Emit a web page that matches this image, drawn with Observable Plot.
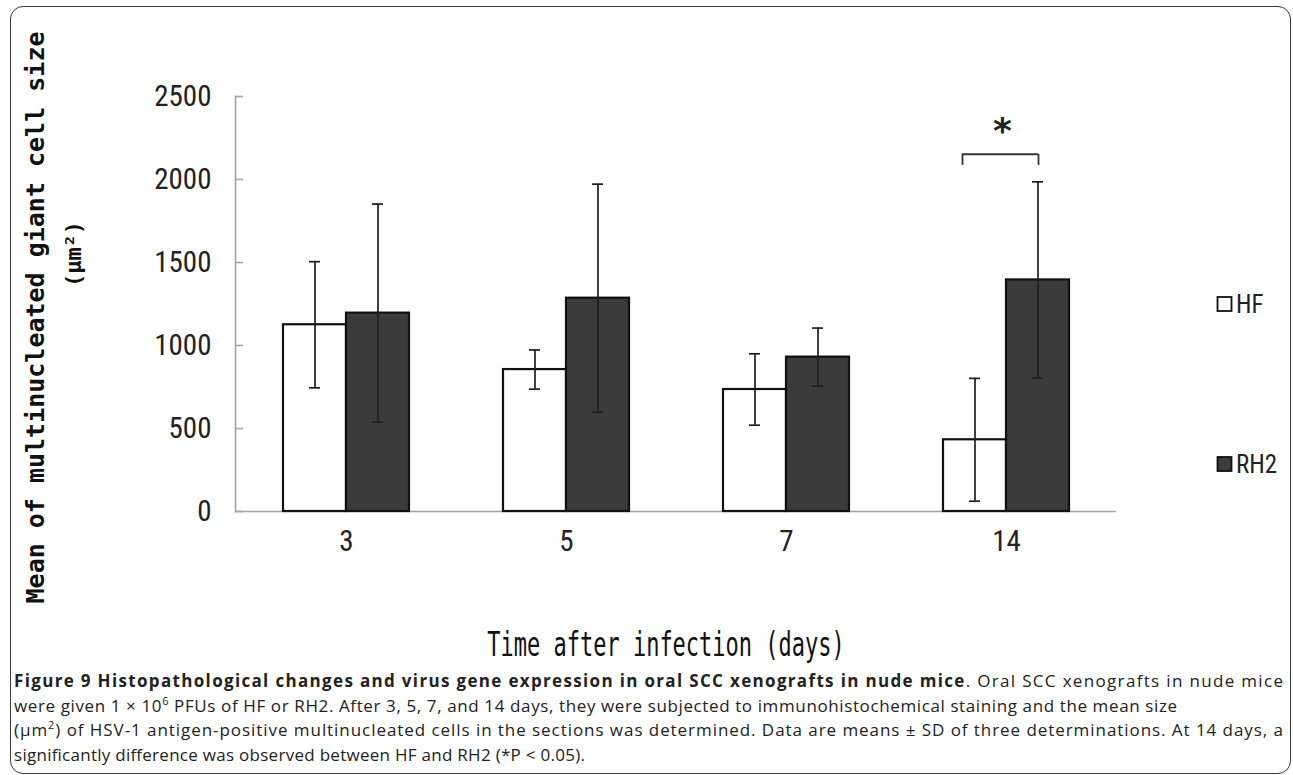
<!DOCTYPE html>
<html>
<head>
<meta charset="utf-8">
<script src="https://cdn.jsdelivr.net/npm/d3@7"></script>
<script src="https://cdn.jsdelivr.net/npm/@observablehq/plot@0.6"></script>
<style>
  body { margin: 0; background: #fff; }
  #wrap { position: relative; width: 1293px; height: 775px; overflow: hidden; background: #fff; }
  #frame { position: absolute; left: 10px; top: 6px; width: 1281px; height: 768px; border: 1.5px solid #3a3a3a; border-radius: 13px; box-sizing: border-box; }
  #chart { position: absolute; left: 0; top: 0; }
  #overlay { position: absolute; left: 0; top: 0; pointer-events: none; }
</style>
</head>
<body>
<div id="wrap">
  <div id="frame"></div>
  <div id="chart"></div>
  <svg id="overlay" width="1293" height="775"></svg>
</div>
<script>
// ---- data ----
const days = ["3", "5", "7", "14"];
const seriesNames = ["HF", "RH2"];
const hfMean = [1125, 855, 735, 432];
const hfSD = [380, 118, 215, 370];
const rh2Mean = [1195, 1285, 930, 1395];
const rh2SD = [657, 687, 175, 591];
const yTicks = [0, 500, 1000, 1500, 2000, 2500];
const sigDay = "14";
const sigBracket = [2085, 2152];   // leg bottom, bracket level (µm²)
const sigStar = 2326;
const yLabel1 = "Mean of multinucleated giant cell size";
const yLabel2 = "(μm²)";
const xLabel = "Time after infection (days)";

// ---- tables ----
const hf = days.map((d, i) => ({day: d, mean: hfMean[i], sd: hfSD[i]}));
const rh2 = days.map((d, i) => ({day: d, mean: rh2Mean[i], sd: rh2SD[i]}));

const axisGrey = "#a3a3a3";
const ink = "#1e1e1e";
const darkFill = "#3b3b3b";
const narrow = "'Liberation Sans Narrow', 'Arial Narrow', 'Roboto Condensed', 'Liberation Sans', Arial, sans-serif";
const mono = "'DejaVu Sans Mono', 'Liberation Mono', monospace";

const W = 1293, H = 570, ML = 235, MR = 177, MT = 96, MB = 59;
const frameW = W - ML - MR;
const midY = (MT + H - MB) / 2;
const half = 63;

const chart = Plot.plot({
  width: W, height: H,
  marginLeft: ML, marginRight: MR, marginTop: MT, marginBottom: MB,
  style: {background: "transparent", overflow: "visible"},
  x: {type: "band", domain: days, paddingInner: 0.428, paddingOuter: 0.214, label: null, axis: null},
  y: {domain: [0, 2500], label: null, axis: null},
  marks: [
    Plot.ruleY([0], {stroke: axisGrey, strokeWidth: 1.6}),
    Plot.frame({anchor: "left", stroke: axisGrey, strokeWidth: 1.6}),
    Plot.tickY(yTicks, {y: d => d, insetRight: frameW - 8, stroke: axisGrey, strokeWidth: 1.6}),
    Plot.axisY({ticks: yTicks, tickFormat: d => String(d), tickSize: 0, tickPadding: 24, fontSize: 29, fontFamily: narrow, fill: "#222", label: null}),
    Plot.axisX({tickSize: 0, tickPadding: 19, fontSize: 29, fontFamily: narrow, fill: "#222", label: null}),
    Plot.barY(hf, {x: "day", y: "mean", insetRight: half, fill: "white", stroke: "#111", strokeWidth: 2.2}),
    Plot.barY(rh2, {x: "day", y: "mean", insetLeft: half, fill: darkFill, stroke: "#111", strokeWidth: 2.2}),
    Plot.ruleX(hf, {x: "day", y1: d => d.mean - d.sd, y2: d => d.mean + d.sd, dx: -31.5, stroke: ink, strokeWidth: 1.7}),
    Plot.ruleX(rh2, {x: "day", y1: d => d.mean - d.sd, y2: d => d.mean + d.sd, dx: 31.5, stroke: ink, strokeWidth: 1.7}),
    Plot.tickY(hf, {x: "day", y: d => d.mean + d.sd, insetLeft: 26, insetRight: 89, stroke: ink, strokeWidth: 1.7}),
    Plot.tickY(hf, {x: "day", y: d => d.mean - d.sd, insetLeft: 26, insetRight: 89, stroke: ink, strokeWidth: 1.7}),
    Plot.tickY(rh2, {x: "day", y: d => d.mean + d.sd, insetLeft: 89, insetRight: 26, stroke: ink, strokeWidth: 1.7}),
    Plot.tickY(rh2, {x: "day", y: d => d.mean - d.sd, insetLeft: 89, insetRight: 26, stroke: ink, strokeWidth: 1.7}),
    // significance bracket
    Plot.ruleX([sigDay], {x: d => d, y1: sigBracket[0], y2: sigBracket[1], dx: -44, stroke: "#333", strokeWidth: 1.8}),
    Plot.ruleX([sigDay], {x: d => d, y1: sigBracket[0], y2: sigBracket[1], dx: 32, stroke: "#333", strokeWidth: 1.8}),
    Plot.tickY([sigDay], {x: d => d, y: sigBracket[1], insetLeft: 19, insetRight: 31, stroke: "#333", strokeWidth: 1.8}),
    Plot.text([sigDay], {x: d => d, y: sigStar, text: () => "*", fontSize: 36, fontWeight: "bold", fontFamily: "'DejaVu Sans', sans-serif", fill: "#222", dx: -4, dy: 6}),
    // y axis title (two lines)
    Plot.text([yLabel1], {text: d => d, frameAnchor: "left", textAnchor: "middle", rotate: -90, dx: 35.5 - ML, dy: 317 - midY, fontSize: 25, fontWeight: "bold", fontFamily: mono, fill: "#111"}),
    Plot.text([yLabel2], {text: d => d, frameAnchor: "left", textAnchor: "middle", rotate: -90, dx: 73 - ML, dy: 253.5 - midY, fontSize: 22, fontWeight: "bold", fontFamily: mono, fill: "#111"})
  ]
});
document.getElementById("chart").appendChild(chart);

// ---- overlay: x title, legend, caption ----
const ov = d3.select("#overlay");
ov.append("text")
  .attr("transform", "translate(666,656) scale(1,1.5)")
  .attr("text-anchor", "middle")
  .attr("font-family", mono).attr("font-size", 22).attr("fill", "#111")
  .text(xLabel);

const legendRows = [
  {name: seriesNames[0], fill: "white", y: 304},
  {name: seriesNames[1], fill: darkFill, y: 464}
];
legendRows.forEach(r => {
  ov.append("rect").attr("x", 1217.5).attr("y", r.y - 7).attr("width", 14).attr("height", 14)
    .attr("fill", r.fill).attr("stroke", "#111").attr("stroke-width", 1.8);
  ov.append("text").attr("x", 1236).attr("y", r.y + 9)
    .attr("font-family", narrow).attr("font-size", 25).attr("fill", "#222").text(r.name);
});

const capFont = "'Open Sans', 'Noto Sans', sans-serif";
const capSize = 17;
function capLine(x, y, len, parts) {
  const t = ov.append("text").attr("x", x).attr("y", y)
    .attr("font-family", capFont).attr("font-size", capSize).attr("fill", "#222")
    .attr("textLength", len).attr("lengthAdjust", "spacing");
  parts.forEach(p => {
    const s = t.append("tspan").text(p.t);
    if (p.sup) s.attr("baseline-shift", "super").attr("font-size", 11);
    if (p.bold) s.attr("font-weight", "bold");
  });
}
capLine(14, 687, 1269, [{t: "Figure 9 Histopathological changes and virus gene expression in oral SCC xenografts in nude mice", bold: true}, {t: ". Oral SCC xenografts in nude mice"}]);
capLine(14, 711.5, 1163, [{t: "were given 1 × 10"}, {t: "6", sup: true}, {t: " PFUs of HF or RH2. After 3, 5, 7, and 14 days, they were subjected to immunohistochemical staining and the mean size"}]);
capLine(14, 736, 1269, [{t: "(μm"}, {t: "2", sup: true}, {t: ") of HSV-1 antigen-positive multinucleated cells in the sections was determined. Data are means ± SD of three determinations. At 14 days, a"}]);
capLine(14, 760.5, 571, [{t: "significantly difference was observed between HF and RH2 (*P < 0.05)."}]);
</script>
</body>
</html>
